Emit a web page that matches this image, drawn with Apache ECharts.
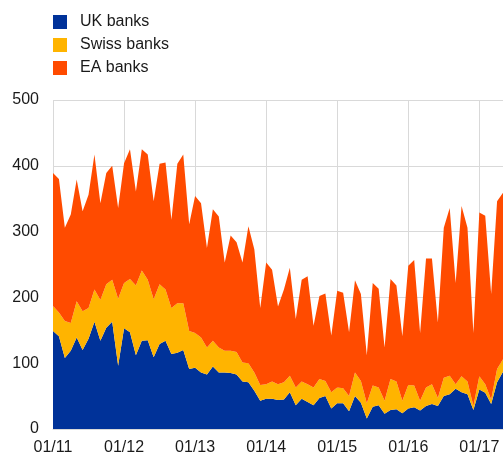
<!DOCTYPE html>
<html>
<head>
<meta charset="utf-8">
<script src="https://cdn.jsdelivr.net/npm/echarts@6/dist/echarts.min.js"></script>
<style>
  html, body { margin: 0; padding: 0; background: #fff; }
  #chart { width: 504px; height: 456px; }
</style>
</head>
<body>
<div id="chart"></div>
<script>
// monthly, 01/11 .. 05/17
const months = [
  "01/11","02/11","03/11","04/11","05/11","06/11","07/11","08/11","09/11","10/11","11/11","12/11",
  "01/12","02/12","03/12","04/12","05/12","06/12","07/12","08/12","09/12","10/12","11/12","12/12",
  "01/13","02/13","03/13","04/13","05/13","06/13","07/13","08/13","09/13","10/13","11/13","12/13",
  "01/14","02/14","03/14","04/14","05/14","06/14","07/14","08/14","09/14","10/14","11/14","12/14",
  "01/15","02/15","03/15","04/15","05/15","06/15","07/15","08/15","09/15","10/15","11/15","12/15",
  "01/16","02/16","03/16","04/16","05/16","06/16","07/16","08/16","09/16","10/16","11/16","12/16",
  "01/17","02/17","03/17","04/17","05/17"
];

const ukBanks = [
  149,141,108,119,139,120,137,163,134,154,163,96,
  153,147,112,134,135,109,129,134,114,116,120,91,
  93,86,83,95,86,86,85,83,72,71,58,43,
  46,46,44,45,56,36,46,41,36,47,50,31,
  39,39,27,50,40,16,34,36,23,29,30,24,
  31,33,28,35,38,35,50,53,61,56,53,29,
  60,55,38,71,87
];

const swissBanks = [
  38,36,56,42,55,59,47,49,62,66,64,102,
  69,81,106,107,92,88,91,78,70,75,71,58,
  53,53,41,39,38,33,34,34,29,29,28,24,
  22,26,24,26,25,27,26,27,27,29,23,25,
  24,23,23,36,33,23,32,27,20,47,42,19,
  36,33,15,28,30,12,28,28,7,24,19,6,
  20,13,7,20,19
];

const eaBanks = [
  202,203,142,165,185,152,172,205,147,169,173,138,
  182,197,143,184,190,149,183,193,134,212,226,162,
  208,204,151,200,199,134,175,167,152,208,187,117,
  185,170,118,141,164,104,155,164,94,126,133,86,
  147,145,97,140,132,73,156,150,81,152,146,98,
  181,191,103,196,191,115,228,255,154,259,234,111,
  249,256,160,255,253
];

const yTicks = { min: 0, max: 500, step: 100 };

const chart = echarts.init(document.getElementById("chart"), null, { renderer: "canvas" });

const font = "Arial, 'Liberation Sans', sans-serif";
const gridColor = "#d9d9d9";
const textColor = "#1a1a1a";

function areaSeries(name, data, color) {
  return {
    name: name,
    type: "line",
    stack: "banks",
    data: data,
    showSymbol: false,
    symbol: "none",
    lineStyle: { width: 0 },
    itemStyle: { color: color },
    areaStyle: { color: color, opacity: 1 },
    animation: false
  };
}

chart.setOption({
  backgroundColor: "#fff",
  animation: false,
  grid: { left: 53, right: 1, top: 100, bottom: 26, containLabel: false },
  legend: {
    orient: "vertical",
    left: 48,
    top: 9,
    itemWidth: 14,
    itemHeight: 14,
    itemGap: 7,
    icon: "rect",
    selectedMode: false,
    textStyle: { fontFamily: font, fontSize: 16, lineHeight: 14, color: textColor, padding: [0, 0, 0, 8] },
    data: ["UK banks", "Swiss banks", "EA banks"]
  },
  xAxis: {
    type: "category",
    boundaryGap: false,
    data: months,
    axisTick: { show: false },
    axisLine: { lineStyle: { color: gridColor, width: 1 } },
    axisLabel: { interval: 11, color: textColor, fontFamily: font, fontSize: 16, margin: 11 },
    splitLine: { show: true, interval: 11, lineStyle: { color: gridColor, width: 1 } }
  },
  yAxis: {
    type: "value",
    min: yTicks.min,
    max: yTicks.max,
    interval: yTicks.step,
    axisTick: { show: false },
    axisLine: { show: false },
    axisLabel: { color: textColor, fontFamily: font, fontSize: 16, margin: 14 },
    splitLine: { lineStyle: { color: gridColor, width: 1 } }
  },
  series: [
    areaSeries("UK banks", ukBanks, "#003299"),
    areaSeries("Swiss banks", swissBanks, "#ffb400"),
    areaSeries("EA banks", eaBanks, "#ff4b00")
  ]
});
</script>
</body>
</html>
